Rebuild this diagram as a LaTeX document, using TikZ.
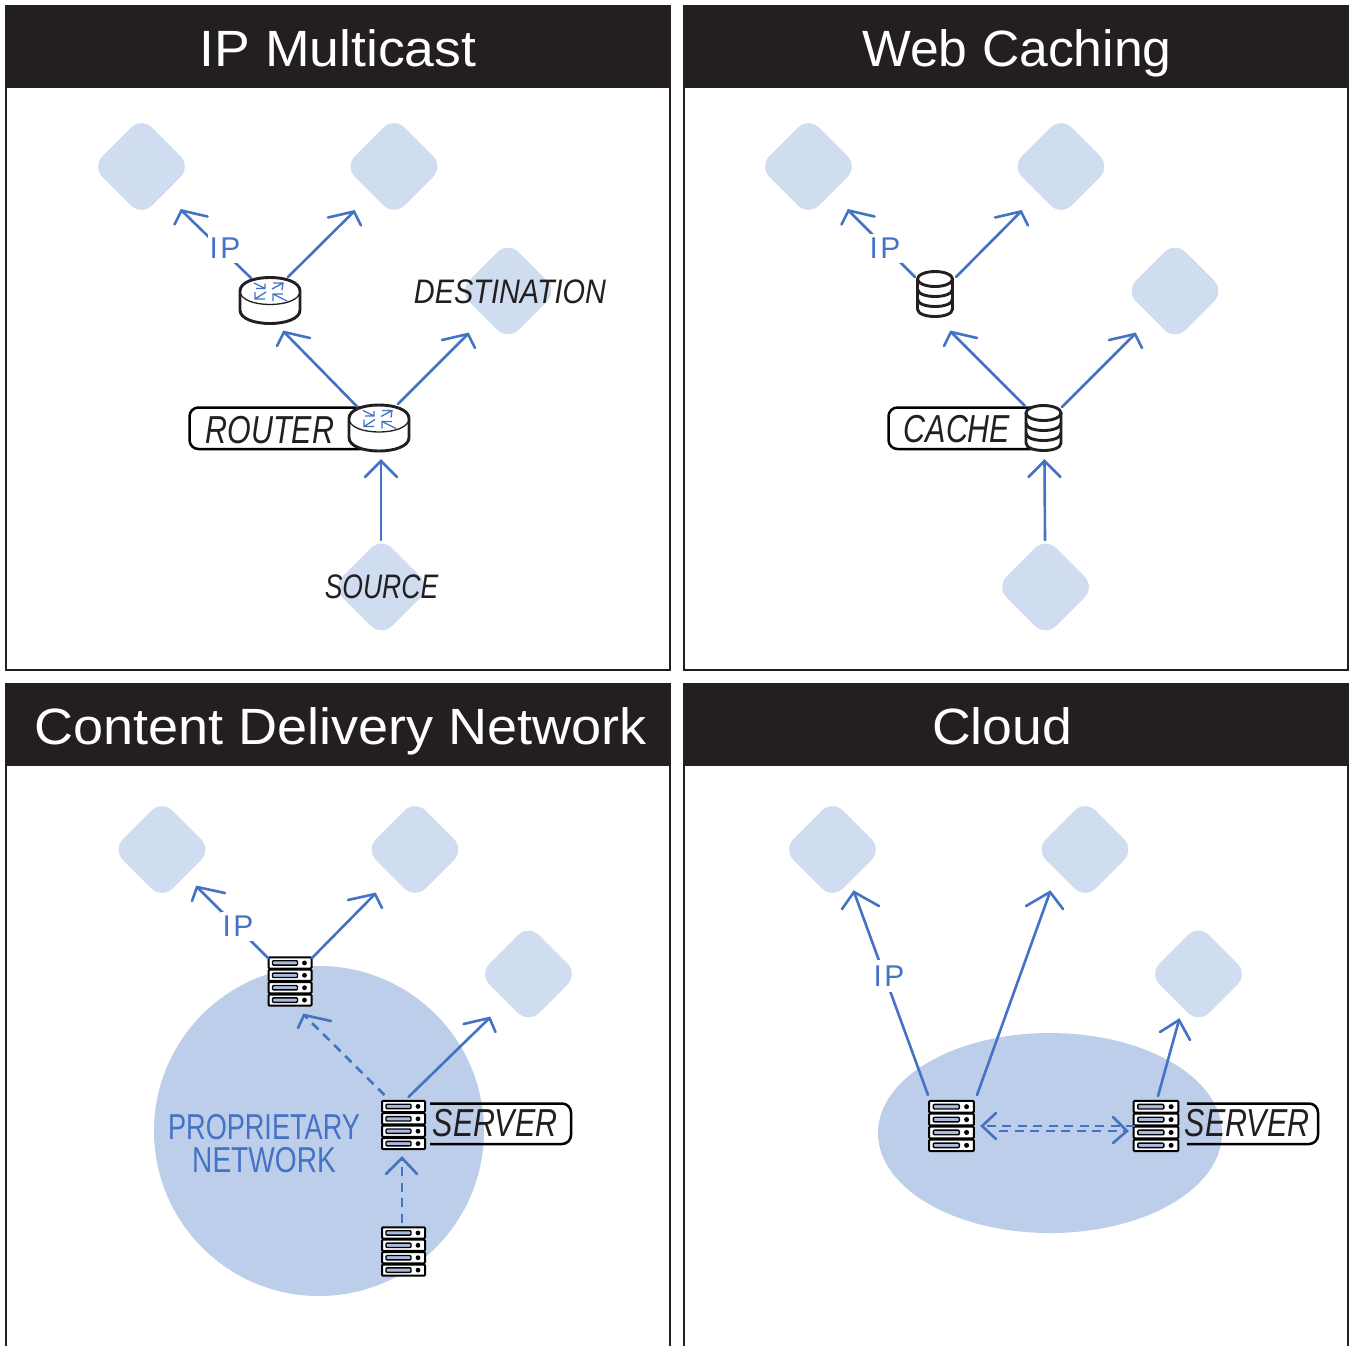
\documentclass[tikz,border=0pt]{standalone}
\usepackage{fontspec}
\setmainfont{Liberation Sans}
\newfontfamily\titlef[FakeStretch=1.05]{Liberation Sans}
\newfontfamily\titleweb[FakeStretch=1.013]{Liberation Sans}
\newfontfamily\titlecdn[FakeStretch=1.06]{Liberation Sans}
\newfontfamily\narrowf[FakeStretch=0.78]{Liberation Sans}
\newfontfamily\destf[FakeStretch=0.85]{Liberation Sans}
\newfontfamily\propf[FakeStretch=0.753]{Liberation Sans}
\usetikzlibrary{calc}
\definecolor{ink}{HTML}{231F20}
\definecolor{blueline}{HTML}{4472C4}
\definecolor{dest}{HTML}{D0DDF0}
\definecolor{cloudblue}{HTML}{BDCEEA}
\definecolor{slotblue}{HTML}{A9BCE0}
\tikzset{
  x=1pt,y=-1pt,
  panel/.style={draw=ink,line width=2pt,fill=white},
  bar/.style={fill=ink},
  titletext/.style={text=white,anchor=base,inner sep=0,font=\titlef\fontsize{51}{51}\selectfont},
  dest node/.style={rectangle,fill=dest,rotate=45,minimum size=70pt,rounded corners=15pt,inner sep=0},
  conn/.style={draw=blueline,line width=2.6pt,line cap=round,line join=miter},
  dconn/.style={conn,line cap=butt,dash pattern=on 9pt off 6.5pt},
  iptext/.style={text=blueline,fill=white,inner sep=0,minimum width=34pt,minimum height=29pt,font=\fontsize{30}{30}\selectfont},
  lab/.style={text=ink,anchor=base,inner sep=0,font=\narrowf\itshape\fontsize{#1}{#1}\selectfont},
  labbox/.style={draw=black,line width=2.5pt,fill=white,rounded corners=9pt},
  labopen/.style={draw=black,line width=2.5pt,rounded corners=9pt},
  net/.style={text=blueline,anchor=base,inner sep=0,font=\narrowf\fontsize{36}{36}\selectfont},
  iconbox/.style={inner sep=0,minimum width=#1,minimum height=46pt},
  thick ink/.style={draw=ink,line width=2.9pt},
  small arrow/.style={draw=blueline,line width=1.3pt}
}
\newcommand\routericon[3]{%
  \node[iconbox=62pt] (#1) at (#2,#3) {};
  \begin{scope}[shift={(#2,#3)}]
    \fill[white] (-30,-9.5) -- (-30,9.5) .. controls (-30,27.5) and (30,27.5) .. (30,9.5) -- (30,-9.5) .. controls (30,-27.5) and (-30,-27.5) .. (-30,-9.5) -- cycle;
    \draw[thick ink] (-30,-9.5) -- (-30,9.5) .. controls (-30,27.5) and (30,27.5) .. (30,9.5) -- (30,-9.5) .. controls (30,-27.5) and (-30,-27.5) .. (-30,-9.5) -- cycle;
    \draw[ink,line width=1.3pt] (-30,-9.5) .. controls (-30,8.5) and (30,8.5) .. (30,-9.5);
    \draw[small arrow] (-16,-17.5) -- (-5,-12) (-14,-12) -- (-5,-12) -- (-5,-17);
    \draw[small arrow] (2,-11.5) -- (13,-17.5) (3,-17.5) -- (13,-17.5) -- (12,-10.5);
    \draw[small arrow] (-4,-8.5) -- (-15,-1.5) (-15,-8.5) -- (-15,-1.5) -- (-5,-1.5);
    \draw[small arrow] (17,0.5) -- (3,-6.5) (13,-6.5) -- (3,-6.5) -- (3,0.5);
  \end{scope}}
\newcommand\dbicon[3]{%
  \node[iconbox=37pt] (#1) at (#2,#3) {};
  \begin{scope}[shift={(#2,#3)}]
    \fill[white] (-17.5,-14.5) -- (-17.5,15.5) .. controls (-17.5,25.5) and (17.5,25.5) .. (17.5,15.5) -- (17.5,-14.5) -- cycle;
    \draw[thick ink,fill=white] (0,-14.5) ellipse [x radius=17.5,y radius=7.5];
    \draw[thick ink] (-17.5,-14.5) -- (-17.5,15.5) .. controls (-17.5,25.5) and (17.5,25.5) .. (17.5,15.5) -- (17.5,-14.5);
    \draw[thick ink] (-17.5,-4.5) .. controls (-17.5,5.5) and (17.5,5.5) .. (17.5,-4.5);
    \draw[thick ink] (-17.5,5.5) .. controls (-17.5,15.5) and (17.5,15.5) .. (17.5,5.5);
  \end{scope}}
\newcommand\serverunit[1]{%
  \draw[black,line width=2pt,fill=white,rounded corners=1pt] (-21.5,#1-5.6) rectangle (21.5,#1+5.6);
  \draw[black,line width=1.4pt,fill=slotblue,rounded corners=1pt] (-17.5,#1-2.2) rectangle (7.5,#1+2.2);
  \fill[black] (14.5,#1) circle [radius=2.4];}
\newcommand\servericon[4]{% name x y scale
  \node[inner sep=0,minimum width=44pt,minimum height=50pt] (#1) at (#2,#3) {};
  \begin{scope}[shift={(#2,#3)},xscale=#4,yscale=#4]
    \serverunit{-18.6}\serverunit{-6.2}\serverunit{6.2}\serverunit{18.6}
  \end{scope}}
\newcommand\link[5][conn]{\draw[#1] #2 -- #3; \draw[conn] #3 ++#4 -- #3 -- ++#5;}
\begin{document}
\begin{tikzpicture}
\useasboundingbox (0,0) rectangle (1351,1345);
\fill[white] (0,0) rectangle (1351,1345);
% panels
\draw[panel] (6,6) rectangle (670,670);
\draw[panel] (684,6) rectangle (1348,670);
\draw[panel] (6,1350) -- (6,684) -- (670,684) -- (670,1350);
\draw[panel] (684,1350) -- (684,684) -- (1348,684) -- (1348,1350);
\fill[bar] (5,5) rectangle (671,88);
\fill[bar] (683,5) rectangle (1349,88);
\fill[bar] (5,683) rectangle (671,766);
\fill[bar] (683,683) rectangle (1349,766);
\node[titletext] (title1) at (338,66) {IP Multicast};
\node[titletext] (title2) at (1017,66) {\titleweb Web Caching};
\node[titletext] (title3) at (340.5,744) {\titlecdn Content Delivery Network};
\node[titletext] (title4) at (1002,744) {Cloud};

% --- IP Multicast
\node[dest node] (a1) at (141.5,166.5) {};
\node[dest node] (a2) at (394,166.5) {};
\node[dest node] (a3) at (508,291) {};
\node[dest node] (a4) at (381.5,587) {};
\draw[labbox] (189.5,407.5) rectangle (370,449);
\routericon{ar1}{270}{300.5}
\routericon{ar2}{379}{428}
\link{($(ar1)+(-19,-22.5)$)}{($(a1)+(40,44)$)}{(26,6)}{(-7,14)}
\node[iptext] (aip) at (225,248) {I\kern2.5pt P};
\link{($(ar1)+(18,-23.5)$)}{($(a2)+(-40,45)$)}{(-26,6)}{(7,14)}
\link{($(ar2)+(-22,-21.5)$)}{($(ar1)+(14,31.5)$)}{(26,6)}{(-7,14)}
\link{($(ar2)+(19,-24)$)}{($(a3)+(-40,43)$)}{(-26,6)}{(7,14)}
\link{($(a4)+(-0.5,-47)$)}{($(ar2)+(2,33)$)}{(-16,16)}{(16,16)}
\node[lab=34] (adest) at (510,303) {\destf\itshape DESTINATION};
\node[lab=34] (asrc) at (381.5,598) {SOURCE};
\node[lab=39] (arouter) at (270,443) {ROUTER};

% --- Web Caching
\node[dest node] (b1) at (808.5,166.5) {};
\node[dest node] (b2) at (1061,166.5) {};
\node[dest node] (b3) at (1175,291) {};
\node[dest node] (b4) at (1045.5,587) {};
\draw[labbox] (888.5,407.5) rectangle (1040,449);
\dbicon{br1}{935}{293.5}
\dbicon{br2}{1043.5}{427.5}
\link{($(br1)+(-20,-16.5)$)}{($(b1)+(40,44)$)}{(26,6)}{(-7,14)}
\node[iptext] (bip) at (885,248) {I\kern2.5pt P};
\link{($(br1)+(21,-16.5)$)}{($(b2)+(-40,45)$)}{(-26,6)}{(7,14)}
\link{($(br2)+(-18.5,-21.5)$)}{($(br1)+(16,38.5)$)}{(26,6)}{(-7,14)}
\link{($(br2)+(18.5,-20.5)$)}{($(b3)+(-40,43)$)}{(-26,6)}{(7,14)}
\link{($(b4)+(-0.5,-47)$)}{($(br2)+(1,33.5)$)}{(-16,16)}{(16,16)}
\node[lab=39] (bcache) at (957,442) {CACHE};

% --- Content Delivery Network
\fill[cloudblue] (319,1131) circle [radius=165];
\node[dest node] (c1) at (162,849.5) {};
\node[dest node] (c2) at (415,849.5) {};
\node[dest node] (c3) at (528.5,974) {};
\servericon{cs1}{290}{981.5}{1}
\servericon{cs2}{403.5}{1125}{1}
\servericon{cs3}{403.5}{1251.5}{1}
\link{($(cs1)+(-22,-23.5)$)}{($(c1)+(35,37.5)$)}{(28,6)}{(-5,14)}
\node[iptext] (cip) at (238,926) {I\kern2.5pt P};
\link{($(cs1)+(22,-23.5)$)}{($(c2)+(-40,44.5)$)}{(-27,6)}{(7,14)}
\link[dconn]{($(cs2)+(-19,-30)$)}{($(cs1)+(14,33.5)$)}{(27,6)}{(-6,13)}
\link{($(cs2)+(5,-28)$)}{($(c3)+(-39,44)$)}{(-26,6)}{(6,14)}
\link[dconn]{($(cs3)+(-1.5,-29)$)}{($(cs2)+(-1.5,33)$)}{(-16,16)}{(15,16)}
\node[net] (cnet1) at (264,1139) {\propf PROPRIETARY};
\node[net] (cnet2) at (264,1172) {NETWORK};
\draw[labopen] (430,1103.5) -- (571,1103.5) -- (571,1144) -- (430,1144);
\node[lab=39] (cserver) at (495,1136) {SERVER};

% --- Cloud
\fill[cloudblue] (1050,1133) ellipse [x radius=172,y radius=100];
\node[dest node] (d1) at (832.5,849.5) {};
\node[dest node] (d2) at (1085,849.5) {};
\node[dest node] (d3) at (1198.5,974) {};
\servericon{ds1}{951.5}{1126}{1.04}
\servericon{ds2}{1156}{1126}{1.04}
\link{($(ds1)+(-23.5,-31)$)}{($(d1)+(21.5,42.5)$)}{(25,14)}{(-12,17)}
\node[iptext,minimum height=32pt] (dip) at (889,976) {I\kern2.5pt P};
\link{($(ds1)+(25.5,-31)$)}{($(d2)+(-35,42.5)$)}{(-24,14)}{(13,17)}
\link{($(ds2)+(2,-30)$)}{($(d3)+(-19.5,46)$)}{(-19,12)}{(11,20)}
\link[dconn]{($(ds2)+(-21,0)$)}{($(ds1)+(30.5,0)$)}{(14,-13)}{(14,13)}
\link[dconn]{($(ds1)+(47.5,5)$)}{($(ds2)+(-29,5)$)}{(-14,-14)}{(-14,12)}
\draw[labopen] (1187,1103.5) -- (1318,1103.5) -- (1318,1144) -- (1187,1144);
\node[lab=39] (dserver) at (1247,1136) {SERVER};
\end{tikzpicture}
\end{document}
